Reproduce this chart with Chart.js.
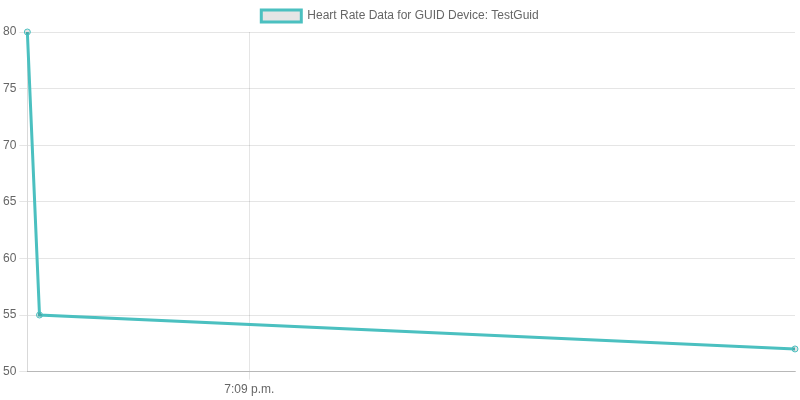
<!DOCTYPE html>
<html>
<head>
<meta charset="utf-8">
<script src="https://cdn.jsdelivr.net/npm/chart.js@4"></script>
<style>
html,body{margin:0;padding:0;background:#fff;}
#wrap{width:800px;height:400px;}
</style>
</head>
<body>
<div id="wrap"><canvas id="c" width="800" height="400"></canvas></div>
<script>
// seconds since 19:08:00
const timesSec = [42.65, 43.6, 102.65];
const heartRate = [80, 55, 52];
const xTickValues = [60];
const xTickLabels = ['7:09 p.m.'];
const seriesLabel = 'Heart Rate Data for GUID Device: TestGuid';

Chart.defaults.font.family = '"Helvetica Neue", Helvetica, Arial, "Liberation Sans", sans-serif';
Chart.defaults.font.size = 12;
Chart.defaults.color = '#666';

const points = timesSec.map((t, i) => ({x: t, y: heartRate[i]}));

new Chart(document.getElementById('c'), {
  type: 'line',
  data: {
    datasets: [{
      label: seriesLabel,
      data: points,
      borderColor: 'rgb(75,192,192)',
      backgroundColor: 'rgba(0,0,0,0.1)',
      borderWidth: 3,
      pointRadius: 3,
      pointBorderWidth: 1,
      tension: 0,
      fill: false,
      clip: false
    }]
  },
  options: {
    responsive: false,
    animation: false,
    layout: {padding: 0},
    plugins: {
      legend: {
        display: true,
        labels: {boxWidth: 40, boxHeight: 12, padding: 10, color: '#666'}
      },
      tooltip: {enabled: false}
    },
    scales: {
      x: {
        type: 'linear',
        min: timesSec[0],
        max: timesSec[timesSec.length - 1],
        afterBuildTicks: (scale) => { scale.ticks = xTickValues.map(v => ({value: v})); },
        afterFit: (scale) => { scale.paddingRight = 5; },
        ticks: {
          padding: 3,
          maxRotation: 0,
          callback: (v) => { const i = xTickValues.indexOf(v); return i >= 0 ? xTickLabels[i] : ''; }
        },
        grid: {color: 'rgba(0,0,0,0.1)', tickLength: 8},
        border: {color: 'rgba(0,0,0,0.2)'}
      },
      y: {
        min: 50,
        max: 80,
        ticks: {stepSize: 5, padding: 3},
        grid: {color: 'rgba(0,0,0,0.1)', tickLength: 8},
        border: {color: 'rgba(0,0,0,0.15)'}
      }
    }
  }
});
</script>
</body>
</html>
